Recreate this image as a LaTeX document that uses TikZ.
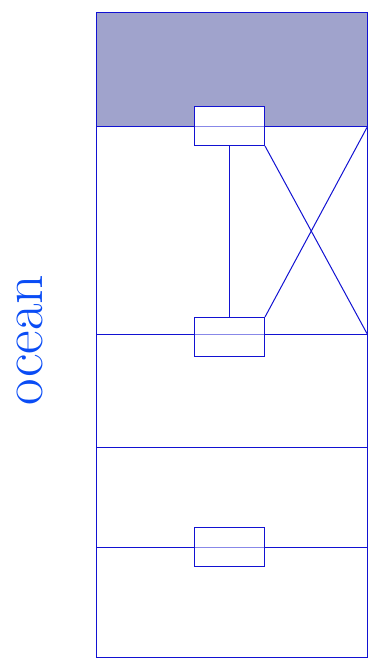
\documentclass[tikz,border=0pt]{standalone}
\usetikzlibrary{positioning}
\definecolor{cline}{HTML}{1212D2}
\definecolor{cshade}{HTML}{A0A3CC}
\definecolor{ctext}{HTML}{0A4CF5}
\tikzset{
  every picture/.style={line width=1bp},
  slot/.style={draw=cline, fill=white, minimum width=70bp, minimum height=39bp, inner sep=0pt},
  wire/.style={color=cline},
  label/.style={text=ctext, rotate=90, font=\fontsize{58}{60}\selectfont},
}
\begin{document}
\begin{tikzpicture}[x=1bp, y=-1bp]
  \useasboundingbox (0,0) rectangle (382,658);
  % shaded top band and the frame
  \fill[cshade] (96.5,12.5) rectangle (367.5,126.5);
  \draw[wire] (96.5,12.5) rectangle (367.5,657.5);
  \foreach \y in {126.5,334.5,447.5,547.5} {
    \draw[wire] (96.5,\y) -- (367.5,\y);
  }
  % boxes on the lines
  \node[slot] (upper) at (229.5,126) {};
  \node[slot] (middle) at (229.5,337) {};
  \node[slot] (lower) at (229.5,547) {};
  \draw[wire, opacity=0.5] (upper.west |- 0,126.5) -- (upper.east |- 0,126.5);
  \draw[wire, opacity=0.5] (middle.west |- 0,334.5) -- (middle.east |- 0,334.5);
  \draw[wire, opacity=0.5] (lower.west |- 0,547.5) -- (lower.east |- 0,547.5);
  \coordinate (ne) at (367.5,126.5);
  \coordinate (se) at (367.5,334.5);
  \draw[wire] (upper.south) -- (middle.north);
  \draw[wire] (upper.south east) -- (se);
  \draw[wire] (ne) -- (middle.north east);
  \node[label] (ocean) at (30,340) {ocean};
\end{tikzpicture}
\end{document}
